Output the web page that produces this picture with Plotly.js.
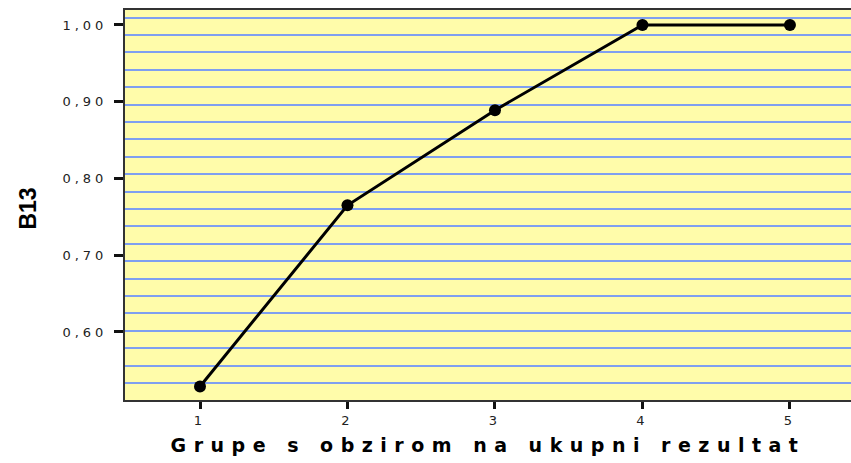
<!DOCTYPE html>
<html>
<head>
<meta charset="utf-8">
<script src="https://cdn.plot.ly/plotly-3.0.1.min.js"></script>
<style>
    body { margin: 0; background: #ffffff; }
    #chart { width: 851px; height: 463px; }
    /* the reference text is drawn wide, so spread the letters */
    .xtick text, .ytick text { letter-spacing: 4px; }
    .g-xtitle text { letter-spacing: 7.5px; }
</style>
</head>
<body>
<div id="chart"></div>
<script>
// Chart data
const groups = [1, 2, 3, 4, 5];
const b13Values = [0.529, 0.765, 0.889, 1.0, 1.0];
const yTickValues = [0.6, 0.7, 0.8, 0.9, 1.0];
const yTickLabels = ['0,60', '0,70', '0,80', '0,90', '1,00'];

const xTitle = 'Grupe s obzirom na ukupni rezultat';
const yTitle = 'B13';

// Axis ranges and the spacing of the blue grid
const xRange = [0.4915, 5.414];
const yRange = [0.5114, 1.0195];
const gridStart = 1.0095;
const gridStep = 0.02267;

function drawChart() {
    const trace = {
        x: groups,
        y: b13Values,
        type: 'scatter',
        mode: 'lines+markers',
        line: { color: '#000000', width: 3 },
        marker: { color: '#000000', size: 12, symbol: 'circle' },
        showlegend: false
    };

    const layout = {
        width: 851,
        height: 463,
        margin: { t: 10, r: 0, b: 63, l: 125 },
        paper_bgcolor: '#ffffff',
        plot_bgcolor: '#fffcaa',
        font: { family: 'DejaVu Sans, Liberation Sans, Arial, sans-serif', color: '#222222' },
        xaxis: {
            range: xRange,
            tickvals: groups,
            ticktext: groups.map(String),
            ticks: 'outside',
            ticklen: 7,
            tickwidth: 3,
            tickcolor: '#111111',
            tickfont: { size: 13, color: '#222222' },
            showgrid: false,
            zeroline: false,
            showline: true,
            linecolor: '#333333',
            linewidth: 2,
            mirror: true,
            title: {
                text: xTitle,
                font: { size: 19, color: '#000000', weight: 'bold' },
                standoff: 12
            }
        },
        yaxis: {
            range: yRange,
            tickvals: yTickValues,
            ticktext: yTickLabels,
            ticks: 'outside',
            ticklen: 9,
            tickwidth: 3,
            tickcolor: '#111111',
            tickfont: { size: 13, color: '#222222' },
            ticklabelstandoff: 4,
            showgrid: false,
            zeroline: false,
            showline: true,
            linecolor: '#333333',
            linewidth: 2,
            mirror: true,
            minor: {
                tickmode: 'linear',
                tick0: gridStart,
                dtick: gridStep,
                showgrid: true,
                gridcolor: '#7f9ff0',
                gridwidth: 2
            }
        },
        annotations: [{
            text: '<b>' + yTitle + '</b>',
            xref: 'paper',
            yref: 'paper',
            x: -0.134,
            y: 0.49,
            xanchor: 'center',
            yanchor: 'middle',
            textangle: -90,
            showarrow: false,
            font: { family: 'Liberation Sans, Arial, sans-serif', size: 23, color: '#000000' }
        }]
    };

    Plotly.newPlot('chart', [trace], layout, { displayModeBar: false, staticPlot: true });
}

drawChart();
</script>
</body>
</html>
